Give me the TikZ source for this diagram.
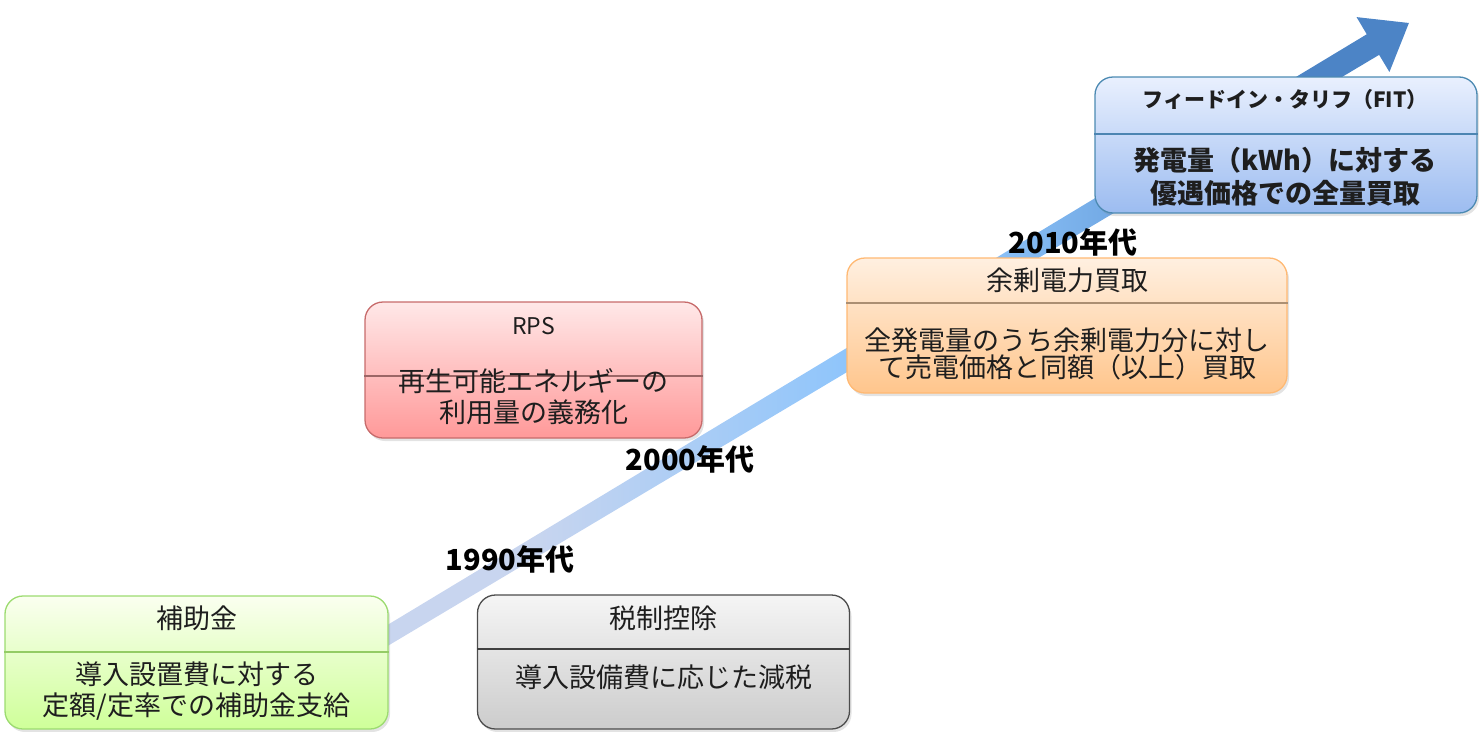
\documentclass[tikz,border=0pt]{standalone}
\usepackage{fontspec}
\setmainfont{Noto Sans CJK JP}
\usetikzlibrary{calc,positioning,shadows}

\definecolor{inkgray}{HTML}{1E1E1E}
\definecolor{trendlow}{HTML}{C8D5EF}
\definecolor{trendmid}{HTML}{8FC5FB}
\definecolor{trendhigh}{HTML}{4C84C6}
\definecolor{fittop}{HTML}{E9F0FE}
\definecolor{fitbottom}{HTML}{9CBCF0}
\pgfdeclarehorizontalshading{trendshade}{100bp}{color(0bp)=(trendlow); color(33bp)=(trendlow);
  color(48bp)=(trendmid); color(54bp)=(trendmid); color(70bp)=(trendhigh); color(100bp)=(trendhigh)}

\tikzset{
  panel/.style={rounded corners=18pt, line width=1.3pt, inner sep=0pt,
    drop shadow={opacity=0.22, shadow xshift=2pt, shadow yshift=-3pt}},
  greenpanel/.style={panel, draw=green!45!lime!60!gray!70, top color=green!8!lime!6!white, bottom color=green!30!lime!40!white},
  graypanel/.style={panel, draw=black!70, top color=black!4, bottom color=black!20},
  pinkpanel/.style={panel, draw=red!45!gray!80, top color=red!9, bottom color=red!40},
  orangepanel/.style={panel, draw=orange!55!white, top color=orange!12!white, bottom color=orange!45!white},
  bluepanel/.style={panel, draw=blue!40!cyan!40!gray, top color=fittop, bottom color=fitbottom},
  divider/.style={line width=1.1pt},
  title/.style={text=inkgray, font=\fontsize{27}{31}\selectfont},
  body/.style={text=inkgray, align=center, font=\fontsize{27}{31}\selectfont},
  decade/.style={text=black, font=\fontsize{29}{31}\selectfont\bfseries},
  trend/.style={shading=trendshade}
}

\begin{document}
\begin{tikzpicture}[x=1pt,y=-1pt]
\useasboundingbox (0,0) rectangle (1479,731);

% rising arrow behind the boxes
\coordinate (trend start) at (370,646);
\begin{scope}[shift={(trend start)}, rotate=30.95]
  \coordinate (trend tip) at (1211.5,0);
  \shade[trend] (0,9) -- (1169.5,12) -- (1169.5,32) -- (trend tip)
    -- (1169.5,-32) -- (1169.5,-12) -- (0,-9) -- cycle;
\end{scope}

% 1990s
\node[greenpanel, minimum width=383pt, minimum height=133pt] (subsidy) at (196.5,662.5) {};
\draw[divider, draw=green!40!lime!50!gray!80] (subsidy.west |- 0,652) -- (subsidy.east |- 0,652);
\node[title] (subsidy title) at (196.5,618) {補助金};
\node[body] (subsidy body) at (196.5,691) {導入設置費に対する\\定額/定率での補助金支給};

\node[graypanel, minimum width=372pt, minimum height=134pt] (taxcut) at (663.5,662) {};
\draw[divider, draw=black!75] (taxcut.west |- 0,649) -- (taxcut.east |- 0,649);
\node[title] (taxcut title) at (663.5,618) {税制控除};
\node[body] (taxcut body) at (663.5,677) {導入設備費に応じた減税};

% 2000s
\node[pinkpanel, minimum width=337pt, minimum height=136pt] (rps) at (533.5,370) {};
\draw[divider, draw=red!35!black!60] (rps.west |- 0,376) -- (rps.east |- 0,376);
\node[title, font=\fontsize{23}{26}\selectfont] (rps title) at (533.5,326) {RPS};
\node[body] (rps body) at (533.5,397) {再生可能エネルギーの\\利用量の義務化};

% 2010s
\node[orangepanel, minimum width=440pt, minimum height=135pt] (surplus) at (1067,325.5) {};
\draw[divider, draw=orange!40!black!55] (surplus.west |- 0,303) -- (surplus.east |- 0,303);
\node[title] (surplus title) at (1067,280) {余剰電力買取};
\node[body, font=\fontsize{27}{27}\selectfont] (surplus body) at (1067,354) {全発電量のうち余剰電力分に対し\\て売電価格と同額（以上）買取};

\node[bluepanel, minimum width=382pt, minimum height=136pt] (fit) at (1286,145) {};
\draw[divider, draw=blue!45!cyan!40!gray] (fit.west |- 0,134) -- (fit.east |- 0,134);
\node[title, font=\fontsize{21}{24}\selectfont\bfseries] (fit title) at (1285,100) {フィードイン・タリフ（FIT）};
\node[body, font=\fontsize{27}{33}\selectfont\bfseries] (fit body) at (1285,177) {発電量（kWh）に対する\\優遇価格での全量買取};

% decade labels
\node[decade] (y1990) at (510,559) {1990年代};
\node[decade] (y2000) at (690,459) {2000年代};
\node[decade] (y2010) at (1073,242) {2010年代};
\end{tikzpicture}
\end{document}
